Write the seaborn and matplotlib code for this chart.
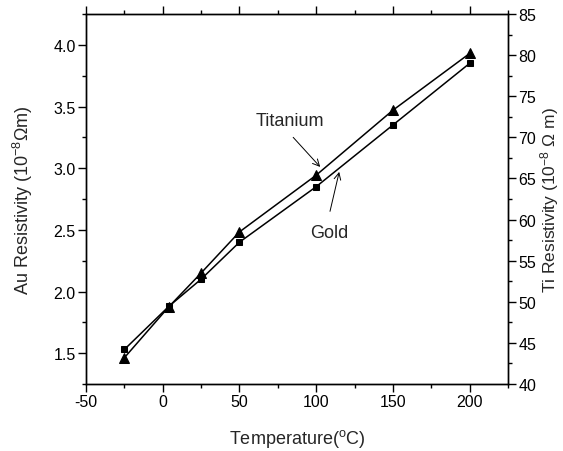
import matplotlib
matplotlib.use("Agg")
import matplotlib.pyplot as plt
import seaborn as sns
import pandas as pd

# Measured resistivity versus temperature
temperature = [-25, 4, 25, 50, 100, 150, 200]
au_resistivity = [1.53, 1.88, 2.10, 2.40, 2.85, 3.35, 3.85]      # 10^-8 Ohm m
ti_resistivity = [43.2, 49.4, 53.5, 58.5, 65.4, 73.3, 80.2]      # 10^-8 Ohm m

x_ticks = [-50, 0, 50, 100, 150, 200]
au_ticks = [1.5, 2.0, 2.5, 3.0, 3.5, 4.0]
ti_ticks = [40, 45, 50, 55, 60, 65, 70, 75, 80, 85]

sns.set_theme(style="ticks")
plt.rcParams["font.family"] = ["Liberation Sans", "DejaVu Sans"]
plt.rcParams["mathtext.fontset"] = "custom"
plt.rcParams["mathtext.rm"] = "Liberation Sans"
plt.rcParams["mathtext.it"] = "Liberation Sans:italic"

df = pd.DataFrame({"T": temperature, "Au": au_resistivity, "Ti": ti_resistivity})

fig = plt.figure(figsize=(5.63, 4.52), dpi=100)
ax = fig.add_axes([0.1528, 0.1482, 0.7495, 0.8186])
ax2 = ax.twinx()

sns.lineplot(data=df, x="T", y="Au", ax=ax, color="black", marker="s",
             markersize=5, linewidth=1.1, markeredgecolor="black")
sns.lineplot(data=df, x="T", y="Ti", ax=ax2, color="black", marker="^",
             markersize=7, linewidth=1.1, markeredgecolor="black")

ax.set_xlim(-50, 225)
ax.set_ylim(1.25, 4.25)
ax2.set_ylim(40, 85)

ax.set_xticks(x_ticks)
ax.set_xticklabels([str(v) for v in x_ticks])
ax.set_xticks([-25, 25, 75, 125, 175, 225], minor=True)
ax.set_yticks(au_ticks)
ax.set_yticklabels([f"{v:.1f}" for v in au_ticks])
ax.set_yticks([1.25, 1.75, 2.25, 2.75, 3.25, 3.75, 4.25], minor=True)
ax2.set_yticks(ti_ticks)
ax2.set_yticklabels([str(v) for v in ti_ticks])
ax2.set_yticks([42.5 + 5 * i for i in range(9)], minor=True)

for a in (ax, ax2):
    for s in a.spines.values():
        s.set_visible(True)
        s.set_linewidth(1.0)
        s.set_color("black")
ax.tick_params(axis="x", which="both", top=True, direction="out", colors="black",
               labelsize=11.5, width=1.0)
ax.tick_params(axis="y", which="both", direction="out", colors="black",
               labelsize=11.5, width=1.0)
ax2.tick_params(axis="y", which="both", direction="out", colors="black",
                labelsize=11.5, width=1.0)
for a in (ax, ax2):
    a.tick_params(which="major", length=5.5, pad=2)
    a.tick_params(which="minor", length=3)

ax.set_xlabel("Temperature($^{\\rm o}$C)", fontsize=13, labelpad=13)
ax.set_ylabel("Au Resistivity (10$^{-8}$Ωm)", fontsize=13, labelpad=13)
ax2.set_ylabel("Ti Resistivity (10$^{-8}$ Ω m)", fontsize=12.5, labelpad=1)

arrow = dict(arrowstyle="->", color="black", lw=0.7, shrinkA=0, shrinkB=0)
ax.text(83, 3.39, "Titanium", fontsize=13, ha="center", va="center")
ax.annotate("", xy=(102.6, 3.01), xytext=(85, 3.25), arrowprops=arrow)
ax.text(108.5, 2.48, "Gold", fontsize=13, ha="center", va="center")
ax.annotate("", xy=(115, 2.97), xytext=(109, 2.65), arrowprops=arrow)

fig.savefig("out.png", dpi=100)
